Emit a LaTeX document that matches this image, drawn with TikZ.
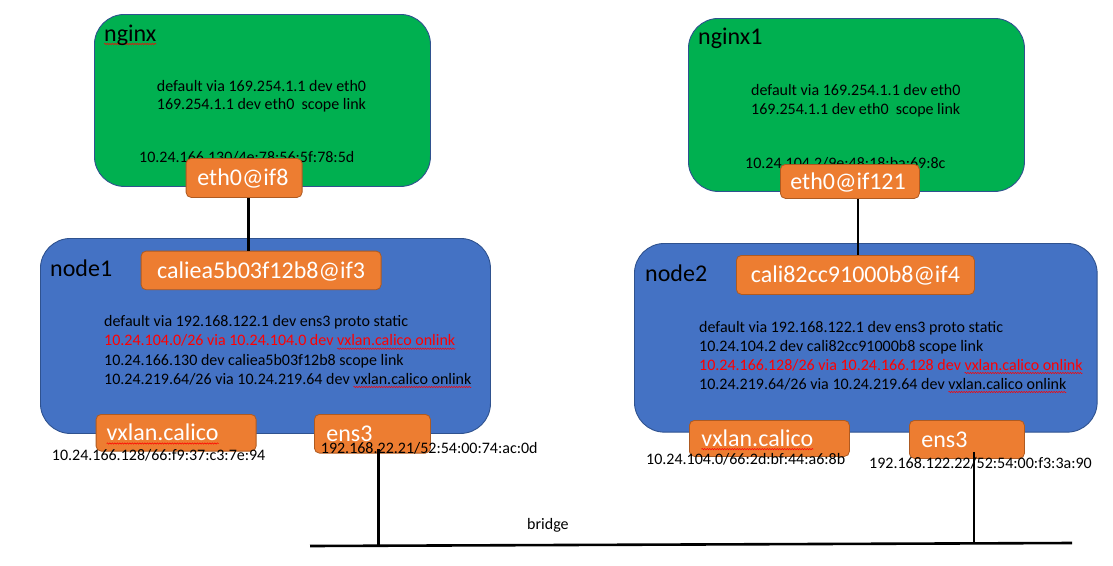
\documentclass[tikz,border=0pt]{standalone}
\usepackage{fontspec}
\setmainfont{Carlito}
\usetikzlibrary{decorations.pathmorphing}
\definecolor{cgreen}{HTML}{00B050}
\definecolor{cblue}{HTML}{4472C4}
\definecolor{corange}{HTML}{ED7D31}
\definecolor{cedge}{HTML}{2F528F}
\definecolor{oedge}{HTML}{AE5A21}
\definecolor{cred}{HTML}{FF0000}
\newsavebox\wavebox
\newcommand\spellwave[1]{\sbox\wavebox{#1}\leavevmode\rlap{\tikz[baseline=0pt]\draw[overlay,sharp corners,red,line width=0.5pt,decorate,decoration={snake,amplitude=0.7pt,segment length=2.5pt}] (0pt,-3pt) -- (\wd\wavebox,-3pt);}\usebox\wavebox}
\begin{document}
\begin{tikzpicture}[x=1pt,y=-1pt,
  host/.style={draw=cedge, line width=0.9pt, rounded corners=30pt, inner sep=0pt, anchor=north west},
  pod/.style={host, fill=cgreen},
  vm/.style={host, fill=cblue},
  iface/.style={draw=oedge, fill=corange, line width=0.8pt, rounded corners=5pt, anchor=north west,
    text=white, font=\fontsize{24}{28}\selectfont, text height=15.5pt, text depth=0pt, inner ysep=0pt},
  title/.style={anchor=base west, inner sep=0pt, font=\fontsize{24}{28}\selectfont},
  route/.style={anchor=base west, inner sep=0pt, font=\fontsize{16}{19}\selectfont},
  redroute/.style={route, text=cred},
  wire/.style={line width=2.6pt}
]
\useasboundingbox (0,0) rectangle (1113,565);

% ---------- left side ----------
\node[pod, minimum width=336pt, minimum height=172pt] (podA) at (94,14) {};
\node[title] (podAt) at (104,41) {\spellwave{nginx}};
\node[route] (pa1) at (156.7,91) {default via 169.254.1.1 dev eth0};
\node[route] (pa2) at (156.7,109.5) {169.254.1.1 dev eth0\ \ scope link};
\node[route] (pamac) at (139,162.7) {10.24.166.130/4e:78:56:5f:78:5d};
\node[iface, minimum width=116pt, minimum height=39pt, inner xsep=11.3pt, text width=93.4pt, align=left] (eth0A) at (185.7,158) {eth0@if8};

\node[vm, minimum width=450pt, minimum height=195pt] (node1) at (40,238) {};
\node[title] (node1t) at (50,276.7) {node1};
\node[iface, minimum width=240pt, minimum height=38.6pt, inner xsep=5pt, text width=230pt, align=center] (caliA) at (140.7,250.7) {caliea5b03f12b8@if3};
\node[route] (ra1) at (104,326.7) {default via 192.168.122.1 dev ens3 proto static};
\node[redroute] (ra2) at (104,345.7) {10.24.104.0/26 via 10.24.104.0 dev \spellwave{vxlan.calico onlink}};
\node[route] (ra3) at (104,365) {10.24.166.130 dev caliea5b03f12b8 scope link};
\node[route] (ra4) at (104,384) {10.24.219.64/26 via 10.24.219.64 dev \spellwave{vxlan.calico onlink}};
\node[iface, minimum width=160pt, minimum height=36.7pt, inner xsep=10.3pt, text width=139pt, align=left] (vxA) at (95.7,414) {\spellwave{vxlan.calico}};
\node[iface, minimum width=116pt, minimum height=38.7pt, inner xsep=12pt, text width=92pt, align=left] (ens3A) at (314,414) {ens3};
\node[route] (vxAmac) at (51.7,460.7) {10.24.166.128/66:f9:37:c3:7e:94};
\node[route] (ens3Amac) at (320.7,453.3) {192.168.22.21/52:54:00:74:ac:0d};

% ---------- right side ----------
\node[pod, minimum width=336pt, minimum height=173pt] (podB) at (688,18) {};
\node[title] (podBt) at (698,44) {nginx1};
\node[route] (pb1) at (751,95) {default via 169.254.1.1 dev eth0};
\node[route] (pb2) at (751,114) {169.254.1.1 dev eth0\ \ scope link};
\node[route] (pbmac) at (745,168) {10.24.104.2/9e:48:18:ba:69:8c};
\node[iface, minimum width=139pt, minimum height=34pt, inner xsep=10pt, text width=119pt, align=left] (eth0B) at (780,164) {eth0@if121};

\node[vm, minimum width=462.7pt, minimum height=188.7pt] (node2) at (634,243) {};
\node[title] (node2t) at (645,281.7) {node2};
\node[iface, minimum width=238pt, minimum height=39pt, inner xsep=5pt, text width=228pt, align=center] (caliB) at (736,255) {cali82cc91000b8@if4};
\node[route] (rb1) at (699,332.3) {default via 192.168.122.1 dev ens3 proto static};
\node[route] (rb2) at (699,351) {10.24.104.2 dev cali82cc91000b8 scope link};
\node[redroute] (rb3) at (699,370) {10.24.166.128/26 via 10.24.166.128 dev \spellwave{vxlan.calico onlink}};
\node[route] (rb4) at (699,389) {10.24.219.64/26 via 10.24.219.64 dev \spellwave{vxlan.calico onlink}};
\node[iface, minimum width=160pt, minimum height=36pt, inner xsep=11.7pt, text width=136pt, align=left] (vxB) at (689,420) {\spellwave{vxlan.calico}};
\node[iface, minimum width=115pt, minimum height=38pt, inner xsep=11.7pt, text width=91pt, align=left] (ens3B) at (909,420) {ens3};
\node[route] (vxBmac) at (646,464.3) {10.24.104.0/66:2d:bf:44:a6:8b};
\node[route] (ens3Bmac) at (869,468.3) {192.168.122.22/52:54:00:f3:3a:90};

% ---------- bridge ----------
\coordinate (bl) at (310,546);
\coordinate (br) at (1072,543);
\draw[wire] (bl) -- (br);
\node[route] (bridget) at (527,529) {bridge};

% ---------- connectors ----------
\draw[wire] ([xshift=4.6pt]eth0A.south) -- ([xshift=4.6pt]eth0A.south |- caliA.north);
\draw[wire] ([xshift=8pt]eth0B.south) -- ([xshift=8pt]eth0B.south |- caliB.north);
\draw[wire] ([xshift=6pt,yshift=4.5pt]ens3A.south) -- ([xshift=6pt]ens3A.south |- bl);
\draw[wire] ([xshift=7pt,yshift=7pt]ens3B.south) -- ([xshift=7pt]ens3B.south |- br);
\end{tikzpicture}
\end{document}
